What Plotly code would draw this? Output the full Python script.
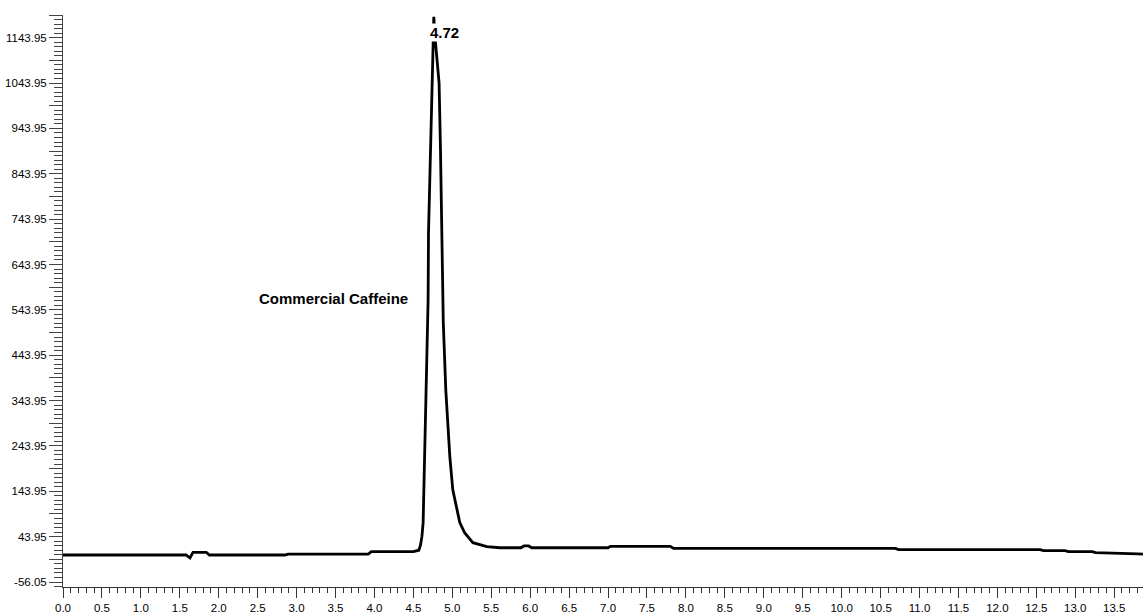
import plotly.graph_objects as go

# Retention time (min) and detector signal
rt = [0.00, 1.58, 1.63, 1.67, 1.84, 1.88, 2.85, 2.89, 3.92, 3.96, 4.50, 4.57,
      4.591, 4.610, 4.625, 4.634, 4.647, 4.668, 4.689, 4.694, 4.720, 4.733, 4.748,
      4.762, 4.775, 4.830, 4.848, 4.865, 4.878, 4.884, 4.916, 4.968, 5.006,
      5.096, 5.16, 5.264, 5.443, 5.61, 5.88, 5.92, 5.98, 6.02, 7.00, 7.03,
      7.80, 7.84, 10.69, 10.73, 12.55, 12.59, 12.87, 12.91, 13.22, 13.26,
      13.80, 13.87]
signal = [3.5, 3.5, -3.0, 9.4, 9.4, 3.5, 3.5, 5.6, 5.6, 11.0, 11.0, 14.0,
          25.0, 45.0, 74.8, 147.0, 220.0, 367.6, 565.7, 713.0, 896.0, 1043.6, 1150.0,
          1190.0, 1150.0, 1043.6, 896.0, 713.0, 565.7, 515.0, 367.6, 220.0, 147.0,
          74.8, 52.0, 30.7, 22.0, 19.5, 19.5, 23.5, 23.5, 19.5, 19.5, 22.6,
          22.6, 18.0, 18.0, 15.3, 15.3, 13.1, 13.1, 11.0, 11.0, 8.7,
          6.0, 5.5]

peak_label = "4.72"
peak_label_pos = (4.905, 1155.0)
sample_label = "Commercial Caffeine"
sample_label_pos = (3.477, 568.6)

y_major = [-56.05 + 50 * k for k in range(26)]
y_text = [f"{v:.2f}" if k % 2 == 0 else "" for k, v in enumerate(y_major)]
x_major = [0.5 * k for k in range(28)]
x_text = [f"{v:.1f}" for v in x_major]

FONT = "Liberation Sans, Arial, sans-serif"

fig = go.Figure()
fig.add_trace(go.Scatter(
    x=rt, y=signal, mode="lines",
    line=dict(color="black", width=2.8),
    hoverinfo="skip", showlegend=False,
))

fig.add_annotation(
    x=peak_label_pos[0], y=peak_label_pos[1], text=f"<b>{peak_label}</b>",
    showarrow=False, font=dict(family=FONT, size=15, color="black"),
    bgcolor="white", borderpad=0,
)
fig.add_annotation(
    x=sample_label_pos[0], y=sample_label_pos[1], text=f"<b>{sample_label}</b>",
    showarrow=False, font=dict(family=FONT, size=15, color="black"),
)

fig.update_layout(
    width=1143, height=614,
    margin=dict(l=63, r=0, t=15, b=27, autoexpand=False),
    paper_bgcolor="white", plot_bgcolor="white",
    font=dict(family=FONT, size=11, color="black"),
    xaxis=dict(
        range=[0, 13.87], showgrid=False, zeroline=False, automargin=False,
        showline=True, linecolor="#333", linewidth=1,
        tickmode="array", tickvals=x_major, ticktext=x_text,
        ticks="outside", ticklen=10, tickcolor="#333", tickwidth=1,
        tickfont=dict(family=FONT, size=11.5, color="black"),
        minor=dict(dtick=0.1, tick0=0, ticks="outside", ticklen=5,
                   tickcolor="#333", tickwidth=1, showgrid=False),
    ),
    yaxis=dict(
        range=[-67.07, 1193.95], showgrid=False, zeroline=False, automargin=False,
        showline=True, linecolor="#444", linewidth=1,
        tickmode="array", tickvals=y_major, ticktext=y_text,
        ticks="outside", ticklen=13, tickcolor="#444", tickwidth=1,
        tickfont=dict(family=FONT, size=11.5, color="black"),
        minor=dict(dtick=10, tick0=-56.05, ticks="outside", ticklen=8,
                   tickcolor="#444", tickwidth=1, showgrid=False),
    ),
)

fig.write_html(
    "out.html",
    config={"displayModeBar": False},
    post_script="document.body.style.margin='0';document.body.style.overflow='hidden';",
)
